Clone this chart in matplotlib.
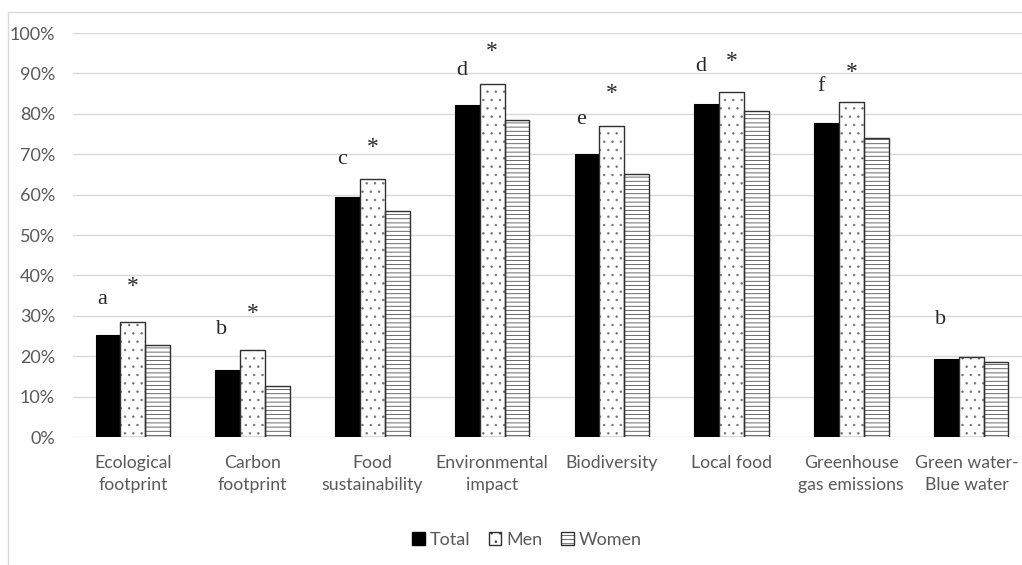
import numpy as np
import matplotlib
matplotlib.use("Agg")
from matplotlib import pyplot as plt
from matplotlib.patches import Rectangle, Patch
from matplotlib.transforms import ScaledTranslation

CATEGORIES = [
    "Ecological\nfootprint",
    "Carbon\nfootprint",
    "Food\nsustainability",
    "Environmental\nimpact",
    "Biodiversity",
    "Local food",
    "Greenhouse\ngas emissions",
    "Green water-\nBlue water",
]
TOTAL = [25.3, 16.6, 59.3, 82.2, 70.0, 82.4, 77.8, 19.2]
MEN = [28.5, 21.5, 63.9, 87.4, 76.9, 85.3, 83.0, 19.7]
WOMEN = [22.8, 12.7, 56.0, 78.5, 65.1, 80.7, 73.9, 18.6]

LETTERS = ["a", "b", "c", "d", "e", "d", "f", "b"]
LETTER_Y = [34.0, 26.5, 68.6, 90.6, 78.5, 91.7, 86.8, 29.0]
STAR_Y = [38.1, 31.3, 72.5, 96.2, 85.9, 93.8, 90.9, None]

Y_TICKS = [0, 10, 20, 30, 40, 50, 60, 70, 80, 90, 100]

TEXT_GRAY = "#595959"
GRID_GRAY = "#d9d9d9"
EDGE = "#303030"

plt.rcParams["font.family"] = ["Lato", "DejaVu Sans"]
plt.rcParams["hatch.linewidth"] = 0.5

fig = plt.figure(figsize=(10.22, 5.65), dpi=100)

# outer chart frame (cropped at right and bottom like the reference)
fig.patches.append(
    Rectangle((8 / 1022, -0.2), 1.2, 1.2 - 12 / 565,
              transform=fig.transFigure, fill=False,
              edgecolor=GRID_GRAY, linewidth=1.0)
)

ax = fig.add_axes([73 / 1022, 128 / 565, 958 / 1022, 404 / 565])

x = np.arange(len(CATEGORIES))
w = 0.207

ax.bar(x - w, TOTAL, w, color="black", edgecolor="black", linewidth=0.8,
       label="Total", zorder=3)
# dots drawn in a softer grey, then the dark outline on top
ax.bar(x, MEN, w, color="white", edgecolor="#707070", linewidth=0,
       hatch="..", zorder=3)
ax.bar(x, MEN, w, fill=False, edgecolor=EDGE, linewidth=1.0, zorder=4)
ax.bar(x + w, WOMEN, w, color="white", edgecolor=EDGE, linewidth=1.0,
       hatch="----", label="Women", zorder=3)

for i in range(len(CATEGORIES)):
    ax.text(x[i] - w - 0.05, LETTER_Y[i], LETTERS[i], ha="center", va="center",
            fontsize=16, family="Liberation Serif", color="#262626", clip_on=False)
    if STAR_Y[i] is not None:
        ax.text(x[i], STAR_Y[i] - 0.8, "*", ha="center", va="center",
                fontsize=17, family="Liberation Serif", color="#262626", clip_on=False)

ax.set_xlim(-0.5, len(CATEGORIES) - 0.5)
ax.set_ylim(0, 100)
ax.set_yticks(Y_TICKS)
ax.set_yticklabels([f"{t}%" for t in Y_TICKS])
ax.set_xticks(x)
ax.set_xticklabels(CATEGORIES, linespacing=1.45)
ax.tick_params(axis="y", length=0, labelsize=13, labelcolor=TEXT_GRAY, pad=13)
ax.tick_params(axis="x", length=0, labelsize=12.7, labelcolor=TEXT_GRAY, pad=13)
ax.grid(axis="y", color=GRID_GRAY, linewidth=1.0, zorder=0)
ax.set_axisbelow(True)
for s in ax.spines.values():
    s.set_visible(False)

# last label sits right at the cropped edge; nudge it in a little
last = ax.get_xticklabels()[-1]
last.set_transform(last.get_transform() + ScaledTranslation(-4 / 100, 0, fig.dpi_scale_trans))

handles = [
    Patch(facecolor="black", edgecolor="black", label="Total"),
    Patch(facecolor="white", edgecolor=EDGE, hatch="..", label="Men"),
    Patch(facecolor="white", edgecolor=EDGE, hatch="----", label="Women"),
]
leg = fig.legend(handles=handles, loc="center", bbox_to_anchor=(527 / 1022, 1 - 540 / 565),
                 ncol=3, frameon=False, fontsize=13, handlelength=0.7, handleheight=0.7,
                 handletextpad=0.3, columnspacing=1.0)
for t in leg.get_texts():
    t.set_color(TEXT_GRAY)

fig.savefig("out.png", dpi=100)
